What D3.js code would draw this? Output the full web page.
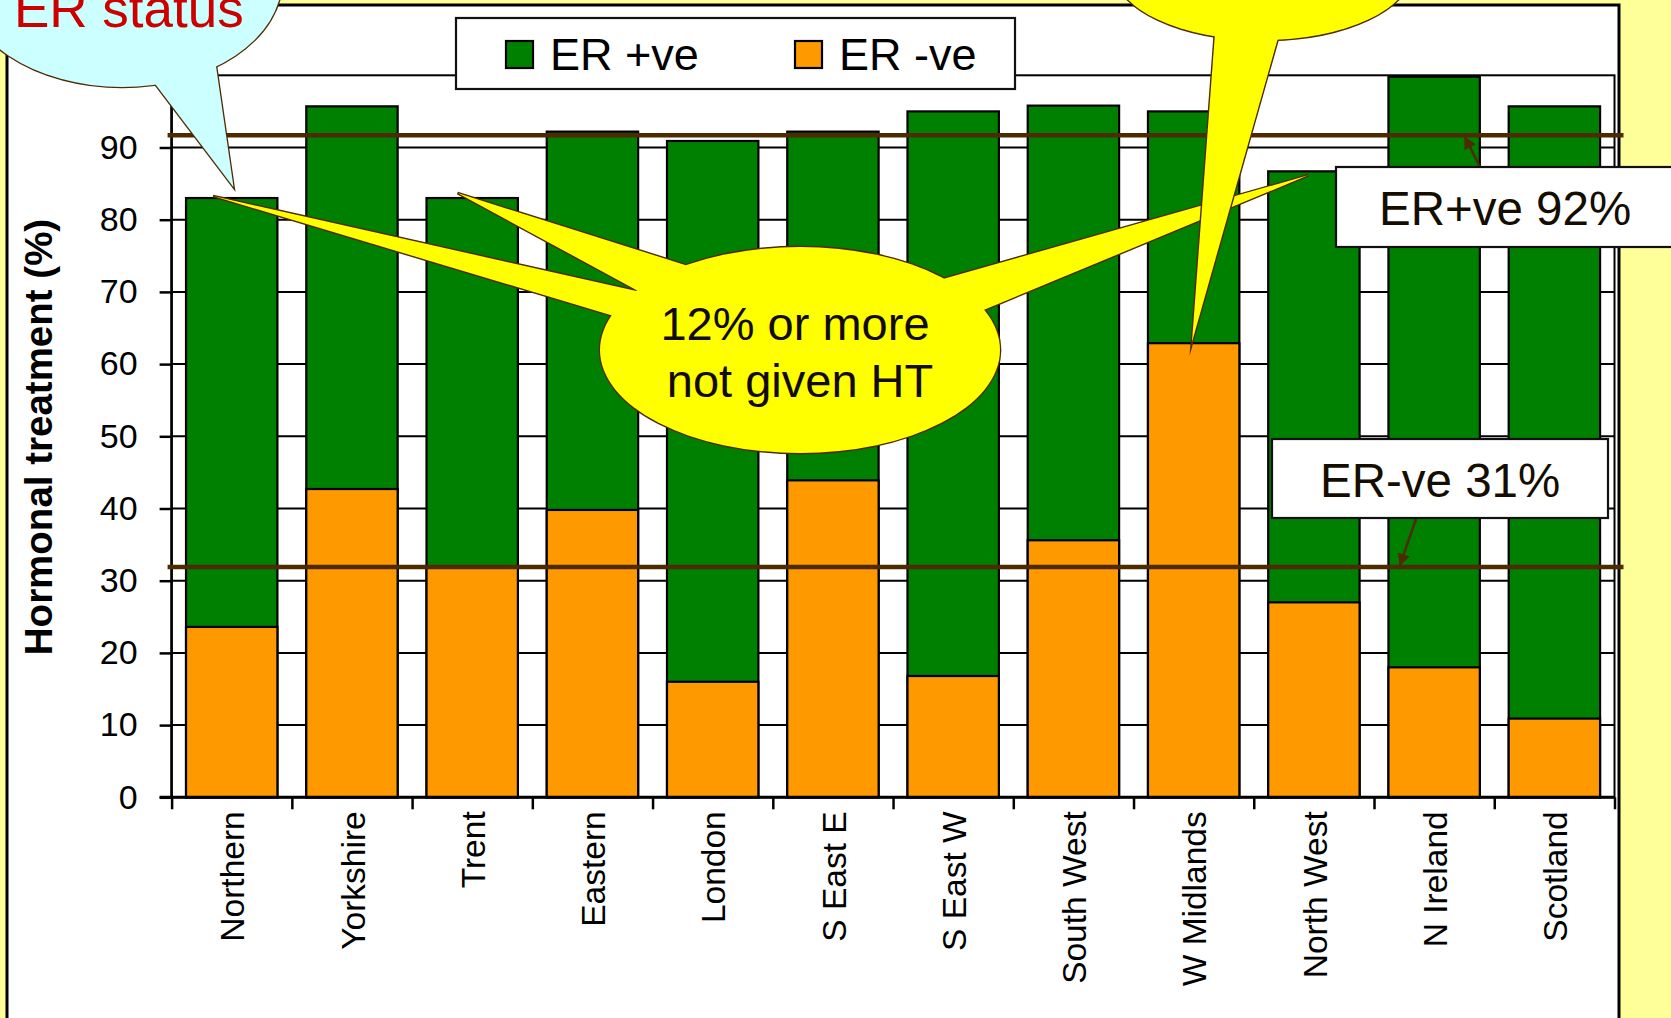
<!DOCTYPE html>
<html>
<head>
<meta charset="utf-8">
<script src="https://cdn.jsdelivr.net/npm/d3@7/dist/d3.min.js"></script>
<style>
  html, body { margin: 0; padding: 0; background: #FFFF99; overflow: hidden; }
  svg { display: block; }
  text { font-family: "Liberation Sans", Arial, sans-serif; }
</style>
</head>
<body>
<svg id="chart" width="1671" height="1018"></svg>
<script>
// ---------------- data ----------------
const categories = ["Northern", "Yorkshire", "Trent", "Eastern", "London", "S East E",
                    "S East W", "South West", "W Midlands", "North West", "N Ireland", "Scotland"];
const erPositive = [83, 95.7, 83, 92.2, 90.9, 92.2, 95, 95.8, 95, 86.7, 99.8, 95.7];
const erNegative = [23.6, 42.7, 31.9, 39.8, 16, 43.9, 16.8, 35.6, 62.9, 27, 18, 10.9];
const yTicks = [0, 10, 20, 30, 40, 50, 60, 70, 80, 90];
const seriesNames = ["ER +ve", "ER -ve"];
const seriesColors = ["#008000", "#FF9900"];
const refLabels = ["ER+ve 92%", "ER-ve 31%"];
const refValues = [91.7, 31.9];
const yTitle = "Hormonal treatment (%)";
const calloutCentral = ["12% or more", "not given HT"];
const calloutTopLeft = "ER status";

// ---------------- setup ----------------
const svg = d3.select("#chart");
const FONT = '"Liberation Sans", Arial, sans-serif';
const BROWN = "#4d2a00";

const x = d3.scaleBand().domain(categories).range([171.6, 1614.5])
  .paddingInner(0.24).paddingOuter(0.12);
const y = d3.scaleLinear().domain([0, 100]).range([797.3, 75.3]);
const [x0, x1] = x.range();
const data = categories.map((c, i) => ({ cat: c, pos: erPositive[i], neg: erNegative[i] }));

// outer frame
svg.append("rect").attr("x", 7).attr("y", 5).attr("width", 1612).attr("height", 1100)
  .attr("fill", "#fff").attr("stroke", "#000").attr("stroke-width", 3);

// gridlines
svg.append("g").selectAll("line").data(yTicks.filter(t => t > 0)).join("line")
  .attr("x1", x0).attr("x2", x1).attr("y1", d => y(d)).attr("y2", d => y(d))
  .attr("stroke", "#000").attr("stroke-width", 2);

// bars: ER+ve behind, ER-ve in front (overlapped)
const gb = svg.append("g");
gb.selectAll("rect.pos").data(data).join("rect").attr("class", "pos")
  .attr("x", d => x(d.cat)).attr("width", x.bandwidth())
  .attr("y", d => y(d.pos)).attr("height", d => y(0) - y(d.pos))
  .attr("fill", seriesColors[0]).attr("stroke", "#000").attr("stroke-width", 2.2);
gb.selectAll("rect.neg").data(data).join("rect").attr("class", "neg")
  .attr("x", d => x(d.cat)).attr("width", x.bandwidth())
  .attr("y", d => y(d.neg)).attr("height", d => y(0) - y(d.neg))
  .attr("fill", seriesColors[1]).attr("stroke", "#000").attr("stroke-width", 2.2);

// plot border
svg.append("rect").attr("x", x0).attr("y", y(100)).attr("width", x1 - x0).attr("height", y(0) - y(100))
  .attr("fill", "none").attr("stroke", "#000").attr("stroke-width", 2);

// y axis
const ya = svg.append("g").attr("transform", `translate(${x0},0)`)
  .call(d3.axisLeft(y).tickValues(yTicks).tickSize(12).tickPadding(22).tickFormat(d3.format("d")));
ya.select(".domain").attr("stroke", "#000").attr("stroke-width", 2.5).attr("d", `M0,${y(0)}V${y(100)}`);
ya.selectAll(".tick line").attr("stroke", "#000").attr("stroke-width", 2.5);
ya.selectAll(".tick text").attr("font-size", 34).attr("font-family", FONT).attr("fill", "#000");

// x axis: ticks at category boundaries
const xb = d3.scaleLinear().domain([0, categories.length]).range([x0, x1]);
const xa = svg.append("g").attr("transform", `translate(0,${y(0)})`)
  .call(d3.axisBottom(xb).tickValues(d3.range(categories.length + 1)).tickSize(12).tickFormat(""));
xa.select(".domain").attr("stroke", "#000").attr("stroke-width", 3).attr("d", `M${x0 - 12},0H${x1}`);
xa.selectAll(".tick line").attr("stroke", "#000").attr("stroke-width", 2.5);
svg.append("g").selectAll("text").data(categories).join("text")
  .attr("transform", d => `translate(${x(d) + x.bandwidth() / 2},${y(0) + 14}) rotate(-90)`)
  .attr("text-anchor", "end").attr("dy", "0.38em")
  .attr("font-size", 33.5).attr("fill", "#000").text(d => d);

// y title
svg.append("text").attr("transform", `translate(51.5,437) rotate(-90)`)
  .attr("text-anchor", "middle").attr("font-size", 38.5).attr("font-weight", "bold")
  .attr("fill", "#000").text(yTitle);

// reference lines
svg.append("g").selectAll("line").data(refValues).join("line")
  .attr("x1", x0 - 4).attr("x2", x1 + 9).attr("y1", d => y(d)).attr("y2", d => y(d))
  .attr("stroke", BROWN).attr("stroke-width", 4.5);

// legend
const lg = svg.append("g");
lg.append("rect").attr("x", 456).attr("y", 18).attr("width", 559).attr("height", 71)
  .attr("fill", "#fff").attr("stroke", "#111").attr("stroke-width", 2.2);
const legendX = [506, 795];
seriesNames.forEach((n, i) => {
  lg.append("rect").attr("x", legendX[i]).attr("y", 41).attr("width", 27).attr("height", 27)
    .attr("fill", seriesColors[i]).attr("stroke", "#000").attr("stroke-width", 2.2);
  lg.append("text").attr("x", legendX[i] + 44).attr("y", 70).attr("font-size", 45)
    .attr("fill", "#000").text(n);
});

// ---------------- callouts ----------------
function callout(ell, tails, fill, stroke, sw) {
  const g = svg.append("g");
  const line = d3.line();
  [0, 1].forEach(layer => {
    const lg2 = g.append("g");
    lg2.append("ellipse").attr("cx", ell.cx).attr("cy", ell.cy).attr("rx", ell.rx).attr("ry", ell.ry)
      .attr("fill", fill).attr("stroke", layer === 0 ? stroke : "none").attr("stroke-width", sw * 2);
    tails.forEach(t => {
      lg2.append("path").attr("d", line(t) + "Z").attr("fill", fill)
        .attr("stroke", layer === 0 ? stroke : "none").attr("stroke-width", sw * 2)
        .attr("stroke-linejoin", "miter").attr("stroke-miterlimit", 10);
    });
  });
  return g;
}
function extend(tip, p, f) { return [tip[0] + (p[0] - tip[0]) * f, tip[1] + (p[1] - tip[1]) * f]; }

// top-left cyan callout
const tipA = [x("Northern") + x.bandwidth() * 0.52, y(84.5)];
callout({ cx: 122, cy: -20, rx: 160, ry: 107 },
  [[tipA, extend(tipA, [156, 85], 1.15), extend(tipA, [216, 66], 1.12)]], "#CCFFFF", BROWN, 1.3);
svg.append("text").attr("x", 14).attr("y", 27).attr("font-size", 53).attr("fill", "#CC0000").text(calloutTopLeft);

// central yellow callout
const cEll = { cx: 800, cy: 350, rx: 200, ry: 103 };
const tipN = [x("Northern") + 27, y(erPositive[0]) - 2];
const tipT = [x("Trent") + 31, y(erPositive[2]) - 5];
const tipNW = [x("North West") + 40, y(erPositive[9]) + 4];
const tails = [
  [tipN, extend(tipN, [623, 288], 1.15), extend(tipN, [607, 314], 1.15)],
  [tipT, extend(tipT, [682, 264], 1.2), extend(tipT, [629, 286], 1.3)],
  [tipNW, extend(tipNW, [943, 279], 1.15), extend(tipNW, [986, 309], 1.15)]
];
const cg = callout(cEll, tails, "#FFFF00", BROWN, 1.4);
cg.append("text").attr("x", 795).attr("y", 340).attr("text-anchor", "middle").attr("font-size", 47)
  .attr("fill", "#120c00").text(calloutCentral[0]);
cg.append("text").attr("x", 800).attr("y", 397).attr("text-anchor", "middle").attr("font-size", 47)
  .attr("fill", "#120c00").text(calloutCentral[1]);

// top-right yellow callout pointing at W Midlands
const tipW = [x("W Midlands") + 44, y(erNegative[8]) - 1];
callout({ cx: 1263, cy: -30, rx: 149, ry: 70 },
  [[tipW, extend(tipW, [1215, 33], 1.1), extend(tipW, [1278, 38], 1.1)]], "#FFFF00", BROWN, 1.4);

// label boxes with arrows
const defs = svg.append("defs");
defs.append("marker").attr("id", "arr").attr("viewBox", "0 0 10 10").attr("refX", 9).attr("refY", 5)
  .attr("markerWidth", 5).attr("markerHeight", 5).attr("orient", "auto")
  .append("path").attr("d", "M0,0L10,5L0,10Z").attr("fill", BROWN);

const boxes = [
  { x: 1336, y: 167, w: 345, h: 80, tx: 1379, ty: 225, from: [1480, 167], toX: 1465, v: refValues[0] },
  { x: 1272, y: 439, w: 336, h: 79, tx: 1320, ty: 497, from: [1416, 519], toX: 1400, v: refValues[1] }
];
boxes.forEach((b, i) => {
  svg.append("line").attr("x1", b.from[0]).attr("y1", b.from[1]).attr("x2", b.toX)
    .attr("y2", y(b.v) + (i === 0 ? 2 : -2))
    .attr("stroke", BROWN).attr("stroke-width", 2.5).attr("marker-end", "url(#arr)");
  svg.append("rect").attr("x", b.x).attr("y", b.y).attr("width", b.w).attr("height", b.h)
    .attr("fill", "#fff").attr("stroke", "#111").attr("stroke-width", 2.2);
  svg.append("text").attr("x", b.tx).attr("y", b.ty).attr("font-size", 47.5).attr("fill", "#140d00")
    .text(refLabels[i]);
});
</script>
</body>
</html>
